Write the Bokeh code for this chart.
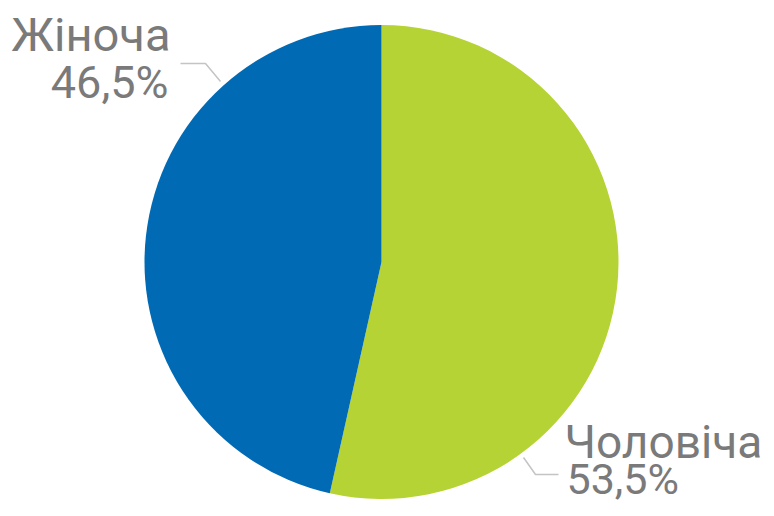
from math import pi
from bokeh.plotting import figure
from bokeh.models import Range1d, ColumnDataSource
from bokeh.core.properties import value
from bokeh.embed import file_html
from bokeh.resources import INLINE

categories = ["Чоловіча", "Жіноча"]
shares = [53.5, 46.5]
share_labels = ["53,5%", "46,5%"]
colors = ["#B6D335", "#006AB4"]

W, H = 766, 508
p = figure(width=W, height=H, output_backend="svg", toolbar_location=None,
           x_range=Range1d(0, W), y_range=Range1d(0, H), min_border=0)
p.axis.visible = False
p.grid.visible = False
p.outline_line_color = None
p.background_fill_color = "white"

def Y(y):
    return H - y

cx, cy, r = 381, Y(261.5), 237
starts, ends = [], []
acc = 0.0
for s in shares:
    a0 = pi / 2 - acc / 100 * 2 * pi
    acc += s
    a1 = pi / 2 - acc / 100 * 2 * pi
    starts.append(a0)
    ends.append(a1)

src = ColumnDataSource(dict(start=starts, end=ends, color=colors, cat=categories))
p.wedge(x=cx, y=cy, radius=r, start_angle="start", end_angle="end",
        direction="clock", fill_color="color", line_color=None, source=src)

grey = "#7a7a7a"
line_grey = "#c4c4c4"
fnt = value("Roboto")

# Жіноча (top-left)
p.line(x=[180, 205, 220], y=[Y(63), Y(63), Y(81)], line_color=line_grey, line_width=1.5)
p.text(x=[170], y=[Y(34)], text=[categories[1]], text_align="right", text_baseline="alphabetic",
       text_font=fnt, text_font_size="47px", text_color=grey)
p.text(x=[168], y=[Y(82)], text=[share_labels[1]], text_align="right", text_baseline="alphabetic",
       text_font=fnt, text_font_size="45px", text_color=grey)

# Чоловіча (bottom-right)
p.line(x=[523, 535, 558], y=[Y(457), Y(474), Y(474)], line_color=line_grey, line_width=1.5)
p.text(x=[564], y=[Y(441)], text=[categories[0]], text_align="left", text_baseline="alphabetic",
       text_font=fnt, text_font_size="46px", text_color=grey)
p.text(x=[566], y=[Y(478)], text=[share_labels[0]], text_align="left", text_baseline="alphabetic",
       text_font=fnt, text_font_size="43px", text_color=grey)

open("out.html", "w").write(file_html(p, INLINE))
